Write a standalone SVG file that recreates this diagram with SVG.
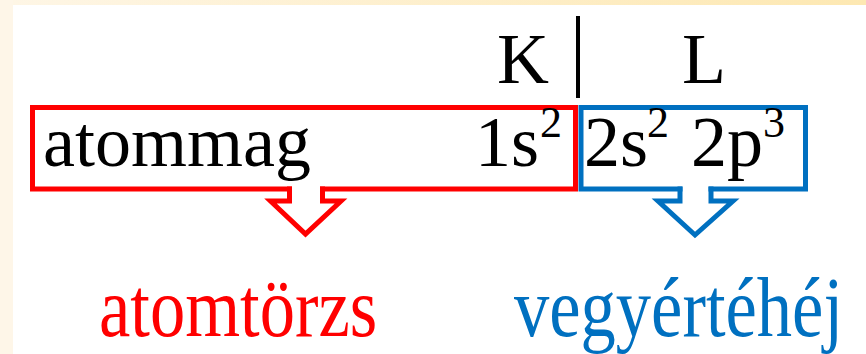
<svg xmlns="http://www.w3.org/2000/svg" width="866" height="354" viewBox="0 0 866 354">
  <defs>
    <linearGradient id="topband" x1="0" y1="0" x2="1" y2="0">
      <stop offset="0" stop-color="#fef6e6"/>
      <stop offset="1" stop-color="#fde8b2"/>
    </linearGradient>
  </defs>
  <style>
    .t { font-family: "Liberation Serif", "Times New Roman", serif; fill: #000; }
    .big { font-size: 72px; }
    .sup { font-size: 44px; }
    .lbl { font-size: 85px; }
    .red { stroke: #ff0000; }
    .blue { stroke: #0070c0; }
    .ol { fill: none; stroke-width: 5; stroke-linecap: square; stroke-linejoin: miter; }
  </style>
  <rect x="0" y="0" width="866" height="354" fill="#ffffff"/>
  <rect x="0" y="0" width="866" height="5" fill="url(#topband)"/>
  <rect x="0" y="0" width="13" height="354" fill="#fef6e8"/>

  <g id="shell-labels">
    <text class="t big" x="497" y="83">K</text>
    <line x1="578" y1="16" x2="578" y2="98" stroke="#000" stroke-width="4"/>
    <text class="t big" x="682" y="83">L</text>
  </g>

  <g id="node-core">
    <path class="ol red" d="M289.5,189 H32.5 V107.5 H575.5 V189 H322.5"/>
    <text class="t big" x="43" y="166">atommag</text>
    <text class="t big" x="475" y="166">1s</text>
    <text class="t sup" x="540" y="137">2</text>
  </g>

  <g id="node-valence">
    <path class="ol blue" d="M680,189 H581 V107.5 H805.5 V189 H711"/>
    <text class="t big" x="584" y="166">2s</text>
    <text class="t sup" x="647" y="137">2</text>
    <text class="t big" x="691" y="166">2p</text>
    <text class="t sup" x="763" y="137">3</text>
  </g>

  <g id="connectors">
    <path class="ol red" d="M289.5,189 V201 H270.5 L305.5,234 L341,201 H322.5 V189"/>
    <path class="ol blue" d="M680,189 V201 H658 L695,235 L733,201 H711 V189"/>
  </g>

  <g id="label-core">
    <text class="t lbl" transform="translate(99,336) scale(0.83,1)" x="0" y="0" style="fill:#ff0000">atomtörzs</text>
  </g>
  <g id="label-valence">
    <text class="t lbl" transform="translate(514,336) scale(0.83,1)" x="0" y="0" style="fill:#0070c0">vegyértéhéj</text>
  </g>
</svg>
